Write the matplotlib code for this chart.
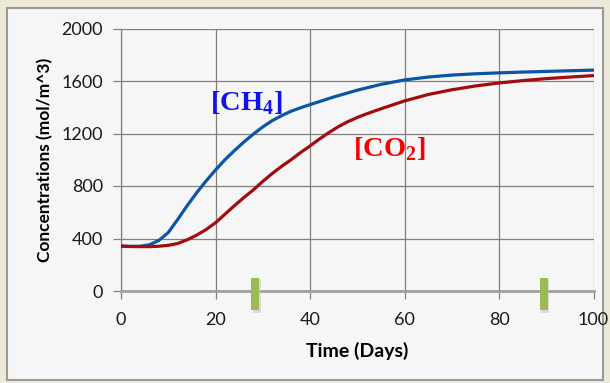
import matplotlib.pyplot as plt
from matplotlib.patches import Rectangle

plt.rcParams["mathtext.fontset"] = "custom"
plt.rcParams["mathtext.rm"] = "Liberation Serif:bold"
plt.rcParams["mathtext.bf"] = "Liberation Serif:bold"

# concentration curves read as (day, mol/m^3)
days_ch4 = [0, 2, 4, 6, 8, 10, 12, 14, 16, 18, 20, 22, 24, 26, 28, 30, 32, 34, 36, 38, 40,
            45, 50, 55, 60, 65, 70, 75, 80, 85, 90, 95, 100]
ch4 = [342, 340, 341, 352, 385, 445, 545, 650, 748, 838, 922, 1000, 1070, 1135, 1195, 1250,
       1298, 1336, 1370, 1396, 1420, 1478, 1530, 1574, 1608, 1630, 1645, 1655, 1662, 1668,
       1673, 1678, 1683]

days_co2 = [0, 2, 4, 6, 8, 10, 12, 14, 16, 18, 20, 22, 24, 26, 28, 30, 32, 34, 36, 38, 40,
            42, 44, 46, 48, 50, 52, 55, 60, 65, 70, 75, 80, 85, 90, 95, 100]
co2 = [342, 339, 338, 338, 341, 348, 362, 390, 425, 468, 520, 585, 650, 712, 770, 835, 895,
       950, 1000, 1055, 1105, 1158, 1207, 1252, 1290, 1322, 1350, 1388, 1448, 1497, 1533,
       1562, 1585, 1603, 1618, 1630, 1641]

# green markers on the time axis
marker_days = [28.4, 89.5]

x_ticks = [0, 20, 40, 60, 80, 100]
y_ticks = [0, 400, 800, 1200, 1600, 2000]

fig = plt.figure(figsize=(6.1, 3.83), dpi=100)
fig.patch.set_facecolor("#ece9d8")
fig.patches.append(Rectangle((7 / 610, 3 / 383), 596 / 610, 372 / 383,
                             transform=fig.transFigure, facecolor="#f6f6f6",
                             edgecolor="#9a9a9a", linewidth=1.5, zorder=-10))

ax = fig.add_axes([121 / 610, 92 / 383, 472.5 / 610, 262.5 / 383])
ax.set_facecolor("none")

ax.plot(days_ch4, ch4, color="#0b55a4", linewidth=2.3, zorder=3)
ax.plot(days_co2, co2, color="#a30c0e", linewidth=2.3, zorder=3)

ax.set_xlim(0, 100)
ax.set_ylim(0, 2000)
ax.set_xticks(x_ticks)
ax.set_yticks(y_ticks)
ax.grid(True, color="#7f7f7f", linewidth=0.9)
ax.set_axisbelow(True)
for s in ["top", "right"]:
    ax.spines[s].set_visible(False)
ax.spines["left"].set_color("#7f7f7f")
ax.spines["left"].set_linewidth(0.9)
ax.spines["bottom"].set_color("#a0a0a0")
ax.spines["bottom"].set_linewidth(2)
ax.tick_params(axis="both", direction="out", length=6, color="#7f7f7f", width=0.9,
               labelsize=13, labelcolor="#1a1a1a")
ax.tick_params(axis="y", pad=7)
ax.tick_params(axis="x", pad=9)
for lab in ax.get_xticklabels() + ax.get_yticklabels():
    lab.set_family("Lato")

ax.set_xlabel("Time (Days)", fontsize=14, fontweight="bold", family="Lato", labelpad=10)
ax.set_ylabel("Concentrations (mol/m^3)", fontsize=12.5, fontweight="bold", family="Lato",
              labelpad=6)

ax.text(18.9, 1381, r"[CH$_\mathbf{4}$]", color="#1010f0", fontsize=20.5, fontweight="bold",
        family="Liberation Serif", va="baseline")
ax.text(49.2, 1026, r"[CO$_\mathbf{2}$]", color="#f80000", fontsize=20.5, fontweight="bold",
        family="Liberation Serif", va="baseline")

for d in marker_days:
    ax.add_patch(Rectangle((d - 0.55, -170), 1.7, 262, facecolor="#c8c8c8", edgecolor="none",
                           alpha=0.6, clip_on=False, zorder=4))
    ax.add_patch(Rectangle((d - 0.85, -144), 1.7, 241, facecolor="#9bbb59", edgecolor="none",
                           clip_on=False, zorder=5))

fig.savefig("out.png", dpi=100, facecolor=fig.get_facecolor())
